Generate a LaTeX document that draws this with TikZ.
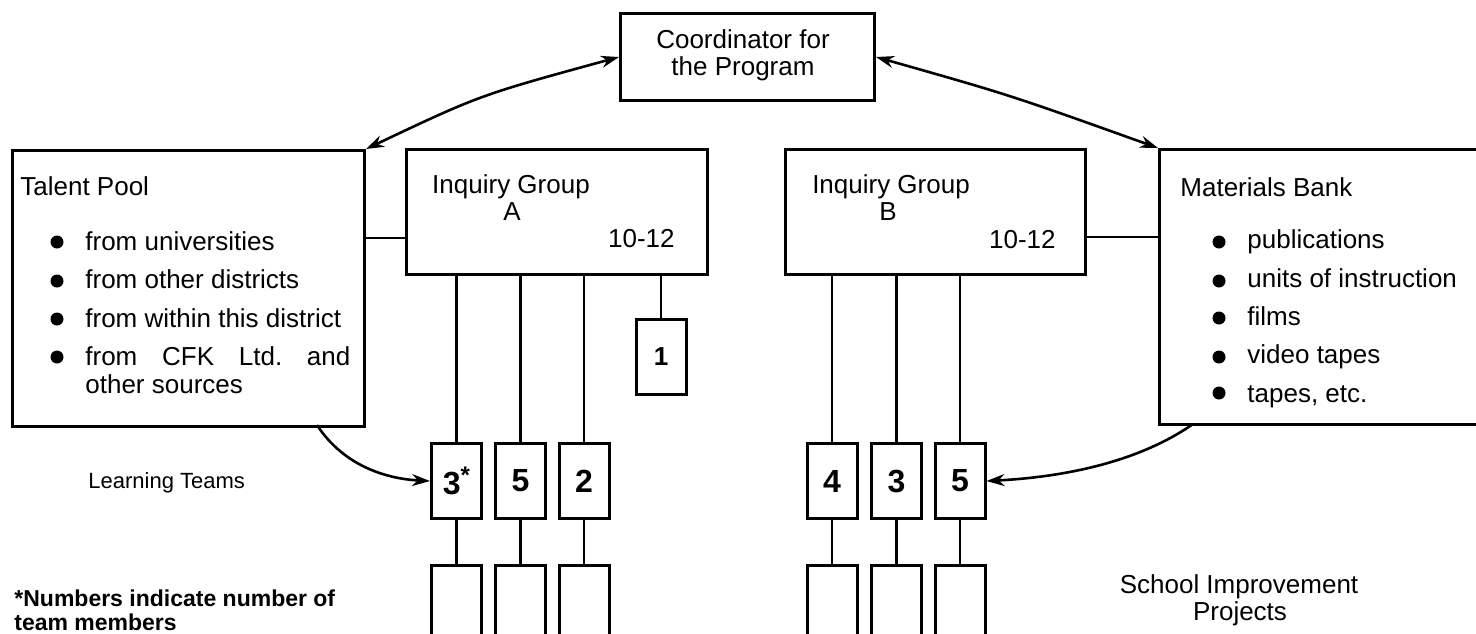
\documentclass[tikz,border=0pt]{standalone}
\usepackage{fontspec}
\setmainfont{Liberation Sans}
\usetikzlibrary{arrows.meta}
\begin{document}
\begin{tikzpicture}[x=0.5pt,y=-0.5pt,
  box/.style={draw, line width=1.5pt, inner sep=0pt, anchor=north west},
  team/.style={draw, line width=1.5pt, inner sep=0pt, anchor=north, minimum width=25pt, minimum height=37.5pt, font=\bfseries\fontsize{16}{18}\selectfont},
  proj/.style={draw, line width=1.5pt, inner sep=0pt, anchor=north, minimum width=25pt, minimum height=40pt},
  conn/.style={line width=1.3pt},
  arr/.style={line width=1.3pt, -{Stealth[length=9pt,width=6pt]}},
  txt/.style={inner sep=0pt, font=\fontsize{13}{13.5}\selectfont},
  bul/.style={txt, anchor=base west},
  ctr/.style={txt, anchor=base},
  foot/.style={inner sep=0pt, anchor=base west, font=\bfseries\fontsize{11.5}{12}\selectfont}
]
\useasboundingbox (0,0) rectangle (1476,633);
\clip (0,0) rectangle (1476,633);
\fill[white] (0,0) rectangle (1476,633);

% main boxes
\node[box, minimum width=127pt, minimum height=43.5pt] (coord) at (619,12) {};
\node[ctr] (coordt1) at (743,48) {Coordinator for};
\node[ctr] (coordt2) at (743,75) {the Program};
\node[box, minimum width=176pt, minimum height=138pt] (tp) at (11,149) {};
\node[box, minimum width=170pt, minimum height=137.5pt] (mb) at (1158,148) {};
\node[box, minimum width=150.5pt, minimum height=62.5pt] (ia) at (405,148) {};
\node[box, minimum width=150pt, minimum height=62.5pt] (ib) at (784,148) {};

% inquiry group texts
\node[ctr] (iat) at (511,193) {Inquiry Group};
\node[ctr] (iaa) at (512,220) {A};
\node[txt, anchor=base east] (ian) at (675,247) {10-12};
\node[ctr] (ibt) at (891,193) {Inquiry Group};
\node[ctr] (ibb) at (888,220) {B};
\node[txt, anchor=base east] (ibn) at (1056,248) {10-12};

% talent pool
\node[bul] (tpt) at (20,195) {Talent Pool};
\node[bul] (tp1) at (85,250) {from universities};
\node[bul] (tp2) at (85,288) {from other districts};
\node[bul] (tp3) at (85,327) {from within this district};
\node[bul] (tp4) at (85,365) {\makebox[132.5pt][s]{from\hfill CFK\hfill Ltd.\hfill and}};
\node[bul] (tp5) at (85,393) {other sources};
\foreach \y in {242,281,319,357} \fill (57,\y) circle (6.5);

% materials bank
\node[bul] (mbt) at (1180,196) {Materials Bank};
\node[bul] (mb1) at (1247,248) {publications};
\node[bul] (mb2) at (1247,287) {units of instruction};
\node[bul] (mb3) at (1247,325) {films};
\node[bul] (mb4) at (1247,363) {video tapes};
\node[bul] (mb5) at (1247,402) {tapes, etc.};
\foreach \y in {242,281,318,357,393} \fill (1219,\y) circle (6.5);

% connectors between pool/bank and groups
\coordinate (ja) at (384,238);
\coordinate (jb) at (1120,237);
\draw[conn] (tp.east |- ja) -- (ia.west |- ja);
\draw[conn] (ib.east |- jb) -- (mb.west |- jb);

% coordinator arrows
\draw[line width=1.3pt, {Stealth[length=9pt,width=6pt]}-{Stealth[length=9pt,width=6pt]}]
  (tp.north east) .. controls (480,95) .. (coord.west);
\draw[line width=1.3pt, {Stealth[length=9pt,width=6pt]}-{Stealth[length=9pt,width=6pt]}]
  (coord.east) .. controls (1010,95) .. (mb.north west);

% learning teams
\node[team] (a3) at (456.5,442) {3\raisebox{0.35em}{\fontsize{12}{12}\selectfont *}};
\node[team] (a5) at (520.5,442) {5};
\node[team] (a2) at (584,442) {2};
\node[team] (b4) at (832,442) {4};
\node[team] (b3) at (896.5,442) {3};
\node[team] (b5) at (960,442) {5};
\node[draw, line width=1.5pt, inner sep=0pt, anchor=north, minimum width=25pt, minimum height=37.5pt, font=\bfseries\fontsize{13}{13}\selectfont] (one) at (661,318) {1};

% school improvement projects
\node[proj] (a3b) at (456.5,564) {};
\node[proj] (a5b) at (520.5,564) {};
\node[proj] (a2b) at (584,564) {};
\node[proj] (b4b) at (832,564) {};
\node[proj] (b3b) at (896.5,564) {};
\node[proj] (b5b) at (960,564) {};

\foreach \n in {a3,a5,a2} {
  \draw[conn] (\n.north |- ia.south) -- (\n.north);
  \draw[conn] (\n.south) -- (\n b.north);
}
\foreach \n in {b4,b3,b5} {
  \draw[conn] (\n.north |- ib.south) -- (\n.north);
  \draw[conn] (\n.south) -- (\n b.north);
}
\draw[conn] (one.north |- ia.south) -- (one.north);

% curved arrows
\coordinate (tpo) at (317,425);
\coordinate (mbo) at (1193,424);
\draw[arr] (tpo) .. controls (345,468) and (390,479) .. (a3.west);
\draw[line width=1.3pt, -{Stealth[open,length=9pt,width=6pt]}] (mbo) .. controls (1130,468) and (1045,478) .. (b5.east);

% labels
\node[txt, anchor=base west, font=\fontsize{11}{12}\selectfont] (lt) at (88,488) {Learning Teams};
\node[ctr] (sip1) at (1239,593) {School Improvement};
\node[ctr] (sip2) at (1240,620) {Projects};
\node[foot] (fn1) at (14,606) {*Numbers indicate number of};
\node[foot] (fn2) at (14,630) {team members};
\end{tikzpicture}
\end{document}
